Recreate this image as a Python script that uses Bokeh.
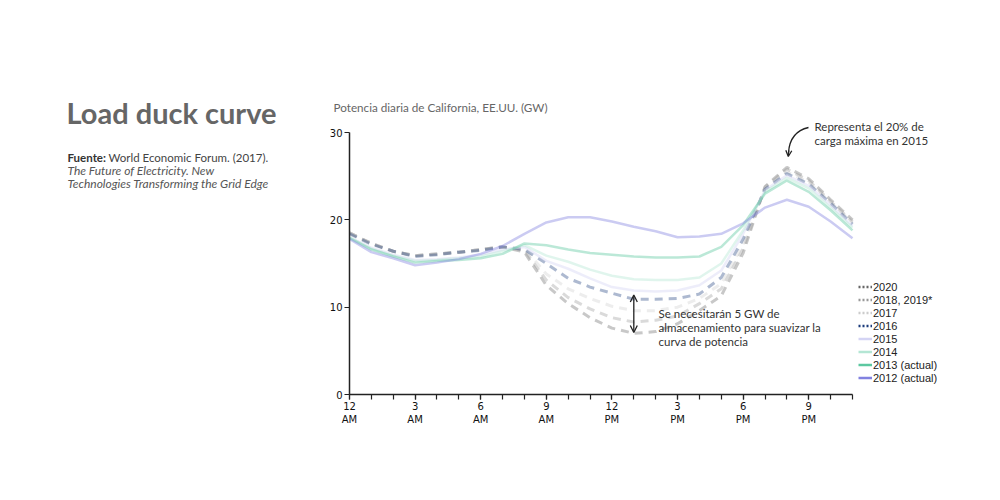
from bokeh.plotting import figure
from bokeh.models import (Range1d, FixedTicker, Label, Legend, LegendItem, Arrow,
                          OpenHead, LinearAxis)
from bokeh.embed import file_html
from bokeh.resources import INLINE

hours = list(range(24))
tick_hours = [0, 3, 6, 9, 12, 15, 18, 21]
tick_labels = ["12", "3", "6", "9", "12", "3", "6", "9"]
tick_periods = ["AM", "AM", "AM", "AM", "PM", "PM", "PM", "PM"]
y_ticks = [0, 10, 20, 30]

p2012 = [17.8, 16.3, 15.6, 14.8, 15.1, 15.5, 16.1, 17.0, 18.4, 19.7, 20.3, 20.3, 19.8, 19.2, 18.7, 18.0, 18.1, 18.4, 19.6, 21.4, 22.3, 21.5, 19.8, 17.9]
p2013 = [17.9, 16.6, 15.8, 15.1, 15.3, 15.4, 15.6, 16.1, 17.3, 17.1, 16.6, 16.2, 16.0, 15.8, 15.7, 15.7, 15.8, 16.9, 19.4, 23.0, 24.5, 23.2, 21.1, 18.8]
p2014 = [18.0, 16.7, 15.9, 15.3, 15.4, 15.6, 15.8, 16.4, 17.1, 15.9, 15.2, 14.3, 13.6, 13.2, 13.1, 13.1, 13.4, 15.0, 18.8, 23.2, 24.8, 23.6, 21.4, 19.1]
p2015 = [18.0, 16.8, 16.0, 15.4, 15.5, 15.7, 16.0, 16.6, 16.9, 15.3, 14.4, 13.3, 12.3, 11.9, 11.8, 11.9, 12.5, 14.2, 18.4, 23.4, 25.1, 23.9, 21.7, 19.3]
p2016 = [18.4, 17.2, 16.4, 15.8, 16.0, 16.3, 16.5, 16.9, 16.6, 15.0, 13.3, 12.3, 11.6, 10.9, 10.9, 11.0, 11.5, 13.4, 17.8, 23.5, 25.3, 24.1, 21.9, 19.5]
p2017 = [18.5, 17.3, 16.4, 15.9, 16.1, 16.3, 16.6, 16.9, 16.7, 13.8, 12.1, 11.0, 10.1, 9.6, 9.6, 10.0, 11.0, 12.7, 17.2, 23.6, 25.5, 24.3, 22.0, 19.7]
p2018 = [18.5, 17.3, 16.4, 15.9, 16.1, 16.3, 16.6, 16.9, 16.5, 13.1, 11.1, 9.8, 8.8, 8.3, 8.5, 9.0, 10.4, 12.1, 16.7, 23.7, 25.8, 24.5, 22.1, 19.8]
p2020 = [18.5, 17.3, 16.4, 15.9, 16.1, 16.3, 16.6, 16.9, 16.3, 12.5, 10.4, 8.8, 7.6, 7.0, 7.2, 8.1, 9.6, 11.3, 16.2, 23.8, 26.0, 24.7, 22.3, 20.0]

series_labels = ["2020", "2018, 2019*", "2017", "2016", "2015", "2014", "2013 (actual)", "2012 (actual)"]
series_values = [p2020, p2018, p2017, p2016, p2015, p2014, p2013, p2012]
series_colors = ["#666666", "#999999", "#cccccc", "#1c3c7c", "#d4d4f4", "#b4e6d4", "#5cc8a0", "#8282e0"]
series_dashed = [True, True, True, True, False, False, False, False]

W, H = 1000, 500
X0, X1, Y0, Y1 = 349, 852, 394, 132
XMAX, YMAX = 23, 30

def dx(px):
    return (px - X0) / (X1 - X0) * XMAX

def dy(py):
    return (Y0 - py) / (Y0 - Y1) * YMAX

p = figure(width=W, height=H, output_backend="svg", toolbar_location=None,
           x_range=Range1d(dx(0), dx(W)), y_range=Range1d(dy(H), dy(0)),
           min_border=0, x_axis_location=None, y_axis_location=None)
p.outline_line_color = None
p.xgrid.visible = False
p.ygrid.visible = False

def style_axis(ax):
    ax.axis_line_color = "#222222"
    ax.axis_line_width = 1.5
    ax.major_tick_line_color = "#222222"
    ax.major_tick_line_width = 1.2
    ax.major_tick_out = 5
    ax.major_tick_in = 0
    ax.minor_tick_line_color = "#222222"
    ax.minor_tick_line_width = 1.2
    ax.minor_tick_out = 5
    ax.minor_tick_in = 0
    ax.major_label_text_font = "DejaVu Sans"
    ax.major_label_text_font_size = "10px"
    ax.major_label_text_color = "#111111"
    ax.major_label_standoff = 2

xax = LinearAxis(ticker=FixedTicker(ticks=tick_hours, minor_ticks=hours),
                 major_label_overrides={h: l for h, l in zip(tick_hours, tick_labels)},
                 fixed_location=0, bounds=(0, XMAX))
style_axis(xax)
p.add_layout(xax, "below")

ax2 = LinearAxis(ticker=FixedTicker(ticks=tick_hours, minor_ticks=[]),
                 major_label_overrides={h: l for h, l in zip(tick_hours, tick_periods)},
                 fixed_location=0, bounds=(0, XMAX))
style_axis(ax2)
ax2.axis_line_color = None
ax2.major_tick_line_color = None
ax2.minor_tick_line_color = None
ax2.major_label_standoff = 14
p.add_layout(ax2, "below")

yax = LinearAxis(ticker=FixedTicker(ticks=y_ticks, minor_ticks=[]),
                 fixed_location=0, bounds=(0, YMAX))
style_axis(yax)
p.add_layout(yax, "left")

legend_items = []
for lab, vals, col, dashed in zip(series_labels, series_values, series_colors, series_dashed):
    if dashed:
        p.line(hours, vals, line_color=col, line_alpha=0.36, line_width=3, line_dash="8 6")
        dummy = p.line([float("nan")], [float("nan")], line_color=col, line_width=2.5,
                       line_dash="2 2")
    else:
        p.line(hours, vals, line_color=col, line_alpha=0.42, line_width=2.5)
        dummy = p.line([float("nan")], [float("nan")], line_color=col, line_width=2.5)
    legend_items.append(LegendItem(label=lab, renderers=[dummy]))

legend = Legend(items=legend_items, location=(858, H - 384), border_line_color=None,
                background_fill_alpha=0, padding=0, margin=0, spacing=0,
                glyph_width=14, glyph_height=13, label_height=13,
                label_standoff=1, label_text_font="Liberation Sans",
                label_text_font_size="11px", label_text_color="#222222")
p.add_layout(legend)

def add_text(px, py, text, size="11.5px", style="normal", color="#333333", font="Lato"):
    p.add_layout(Label(x=dx(px), y=dy(py), text=text, text_font=font,
                       text_font_style=style, text_font_size=size, text_color=color,
                       text_baseline="middle"))

add_text(66, 112, "Load duck curve", size="29px", style="bold", color="#666666")
add_text(67, 157, "Fuente:", style="bold", color="#333333")
add_text(108, 157, "World Economic Forum. (2017).", color="#444444")
add_text(67, 170, "The Future of Electricity. New", size="12px", style="italic", color="#555555")
add_text(67, 183, "Technologies Transforming the Grid Edge", size="12px", style="italic",
         color="#555555")
add_text(333, 106, "Potencia diaria de California, EE.UU. (GW)", size="11.7px", color="#666666")

p.add_layout(Arrow(x_start=13, y_start=11.4, x_end=13, y_end=7.1,
                   start=OpenHead(size=7, line_width=1.3, line_color="#222222"),
                   end=OpenHead(size=7, line_width=1.3, line_color="#222222"),
                   line_color="#222222", line_width=1.3))
for i, t in enumerate(["Se necesitarán 5 GW de", "almacenamiento para suavizar la",
                       "curva de potencia"]):
    add_text(658, 313 + 14 * i, t)

for i, t in enumerate(["Representa el 20% de", "carga máxima en 2015"]):
    add_text(814, 126 + 14 * i, t)
p.bezier(x0=[dx(808)], y0=[dy(127)], x1=[dx(788)], y1=[dy(152)],
         cx0=[dx(795)], cy0=[dy(130)], cx1=[dx(789)], cy1=[dy(138)],
         line_color="#222222", line_width=1.3)
p.add_layout(Arrow(x_start=dx(788.3), y_start=dy(150), x_end=dx(787.8), y_end=dy(156),
                   end=OpenHead(size=6, line_width=1.3, line_color="#222222"),
                   line_color="#222222", line_width=1.3))

open("out.html", "w").write(file_html(p, INLINE))
